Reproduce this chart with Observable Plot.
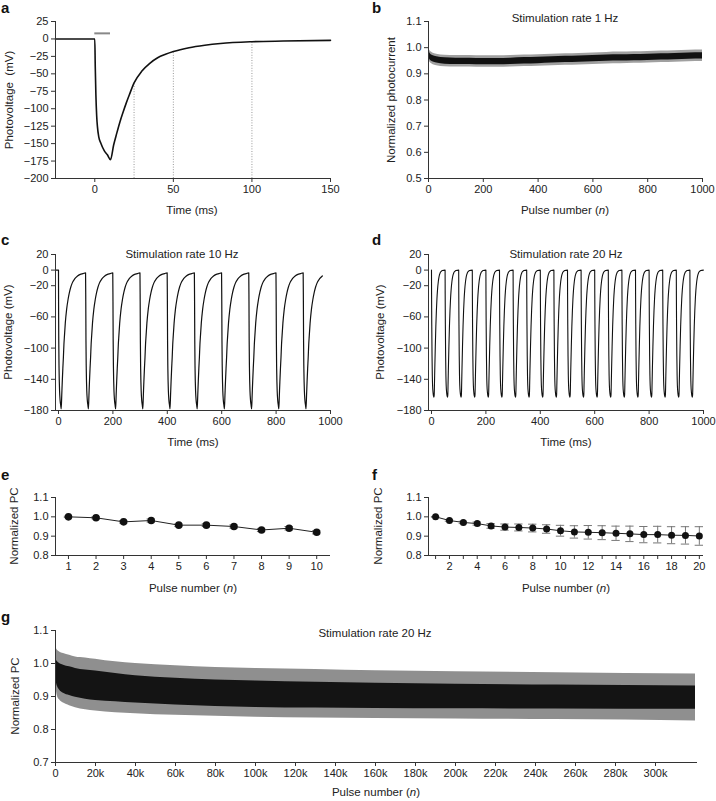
<!DOCTYPE html>
<html><head><meta charset="utf-8">
<script src="https://cdn.jsdelivr.net/npm/d3@7"></script>
<script src="https://cdn.jsdelivr.net/npm/@observablehq/plot@0.6"></script>
<style>
body{margin:0;background:#fff;font-family:"Liberation Sans",Arial,sans-serif;}
#fig{position:relative;width:716px;height:801px;overflow:hidden;background:#fff}
.lt{position:absolute;font-weight:bold;font-size:15px;line-height:15px;color:#111}
.t{position:absolute;font-size:11.5px;line-height:12px;color:#222;white-space:nowrap;transform:translateX(-50%)}
.yl{position:absolute;font-size:11.5px;line-height:12px;color:#222;white-space:nowrap;transform:translate(-50%,-50%) rotate(-90deg)}
</style></head><body><div id="fig"></div>
<script>
// ---------- Panel a: single pulse photovoltage ----------
const aTime = [-25, 0, 0.3, 0.7, 1.2, 1.7, 2.5, 3.8, 6, 8, 10, 12, 14, 16, 18, 20, 22, 25, 30, 35, 40, 45, 50, 60, 70, 80, 100, 120, 150];
const aVolt = [0, 0, -40, -80, -110, -126, -140, -149, -160, -166, -173, -152, -135, -119, -105, -92, -80, -63, -46, -35, -27, -22, -18, -12.5, -9, -6.5, -4, -3, -2];
const aStimStart = [0], aStimEnd = [10], aStimLevel = [8];
const aMarkTimes = [25, 50, 100], aMarkVolts = [-63, -18, -4];
const aXTicks = [0, 50, 100, 150];
const aYTicks = [25, 0, -25, -50, -75, -100, -125, -150, -175, -200];

// ---------- Panel b: 1 Hz normalized photocurrent ----------
const bPulse = [0, 3, 8, 15, 30, 60, 100, 150, 200, 250, 300, 350, 400, 450, 500, 550, 600, 650, 700, 750, 800, 850, 900, 950, 1000];
const bMean  = [0.99, 0.972, 0.963, 0.958, 0.953, 0.949, 0.948, 0.948, 0.947, 0.947, 0.948, 0.95, 0.951, 0.953, 0.955, 0.956, 0.958, 0.96, 0.961, 0.962, 0.963, 0.965, 0.966, 0.968, 0.969];
const bTraceHalf = [0.012];   // spread of noisy trace
const bSem = [0.022];         // grey error band
const bXTicks = [0, 200, 400, 600, 800, 1000];
const bYTicks = [0.5, 0.6, 0.7, 0.8, 0.9, 1.0, 1.1];

// ---------- Panel c: 10 Hz train ----------
const cLeadT = [-11, 0], cLeadV = [0, 0];
const cOnsets = [0, 100, 200, 300, 400, 500, 600, 700, 800, 900];
const cPulseOffset = [0.3, 1, 2, 3, 4, 6, 8, 10, 12, 14, 16, 18, 20, 22, 25, 30, 35, 40, 45, 50, 60, 70, 80, 90, 99.5];
const cPulseVolt   = [-40, -90, -125, -143, -155, -167, -173, -178, -160, -142, -126, -112, -95, -84, -68, -50, -38, -29, -22, -17, -11, -7.5, -5.5, -4.5, -3.5];
const cEnd = 978;
const cXTicks = [0, 200, 400, 600, 800, 1000];
const cdYTicks = [20, 0, -20, -60, -100, -140, -180];

// ---------- Panel d: 20 Hz train ----------
const dOnsets = [0, 50, 100, 150, 200, 250, 300, 350, 400, 450, 500, 550, 600, 650, 700, 750, 800, 850, 900, 950];
const dPulseOffset = [0, 0.3, 1, 2, 3, 4, 6, 8, 9, 10, 11, 12, 14, 16, 18, 20, 22, 25, 28, 32, 36, 40, 49.5];
const dPulseVolt   = [0, -30, -70, -110, -135, -148, -158, -162, -163, -160, -145, -128, -98, -72, -52, -37, -26, -15, -8, -3.5, -1.5, -0.5, 0];
const dEnd = 1000;

// ---------- Panel e: 10 Hz normalized PC ----------
const ePulse = [1, 2, 3, 4, 5, 6, 7, 8, 9, 10];
const eMean  = [1.0, 0.995, 0.974, 0.981, 0.957, 0.957, 0.950, 0.932, 0.941, 0.920];
const eErr   = [0.003, 0.005, 0.006, 0.008, 0.006, 0.007, 0.008, 0.008, 0.009, 0.008];
const efYTicks = [0.8, 0.9, 1.0, 1.1];

// ---------- Panel f: 20 Hz normalized PC ----------
const fPulse = [1, 2, 3, 4, 5, 6, 7, 8, 9, 10, 11, 12, 13, 14, 15, 16, 17, 18, 19, 20];
const fMean  = [1.0, 0.981, 0.971, 0.965, 0.953, 0.947, 0.945, 0.942, 0.937, 0.928, 0.922, 0.920, 0.918, 0.915, 0.912, 0.908, 0.908, 0.905, 0.904, 0.901];
const fErr   = [0.002, 0.004, 0.006, 0.008, 0.012, 0.016, 0.018, 0.02, 0.022, 0.028, 0.032, 0.035, 0.036, 0.037, 0.04, 0.042, 0.043, 0.044, 0.045, 0.048];

// ---------- Panel g: 20 Hz long-term ----------
const gPulse   = [0, 500, 1000, 2000, 4000, 7000, 10000, 15000, 20000, 30000, 40000, 60000, 80000, 100000, 130000, 160000, 200000, 250000, 320000];
const gGrayHi  = [1.055, 1.045, 1.04, 1.035, 1.03, 1.025, 1.02, 1.017, 1.013, 1.005, 1.0, 0.993, 0.988, 0.985, 0.982, 0.978, 0.975, 0.972, 0.968];
const gBlackHi = [1.02, 1.01, 1.005, 1.0, 0.995, 0.99, 0.985, 0.98, 0.977, 0.97, 0.963, 0.955, 0.95, 0.947, 0.943, 0.94, 0.937, 0.935, 0.932];
const gBlackLo = [0.96, 0.94, 0.93, 0.92, 0.91, 0.903, 0.898, 0.892, 0.888, 0.884, 0.88, 0.874, 0.87, 0.867, 0.865, 0.864, 0.863, 0.862, 0.861];
const gGrayLo  = [0.94, 0.915, 0.9, 0.89, 0.88, 0.872, 0.866, 0.86, 0.856, 0.851, 0.848, 0.843, 0.84, 0.837, 0.835, 0.833, 0.832, 0.83, 0.826];
const gXTicks = [0, 20000, 40000, 60000, 80000, 100000, 120000, 140000, 160000, 180000, 200000, 220000, 240000, 260000, 280000, 300000];
const gYTicks = [0.7, 0.8, 0.9, 1.0, 1.1];

// ---------- helpers ----------
const fig = document.getElementById("fig");
const FONT = "'Liberation Sans', Arial, sans-serif";
const AX = "#333";
const plain = d => String(d);

function panel(o) {
  const chart = Plot.plot({
    width: o.width, height: o.height,
    marginLeft: o.ml, marginRight: o.mr, marginTop: o.mt, marginBottom: o.mb,
    x: {domain: o.x, label: null},
    y: {domain: o.y, label: null},
    style: {fontFamily: FONT, fontSize: "11px", color: "#222", background: "transparent", overflow: "visible"},
    marks: [
      ...o.marks,
      Plot.ruleX([o.x[0]], {stroke: AX, strokeWidth: 1}),
      Plot.ruleY([o.y[0]], {stroke: AX, strokeWidth: 1}),
      Plot.axisX({ticks: o.xTicks, tickFormat: o.xFmt || plain, tickSize: 4, tickPadding: 3, label: null, stroke: AX}),
      Plot.axisY({ticks: o.yTicks, tickFormat: o.yFmt, tickSize: 4, tickPadding: 3, label: null, stroke: AX})
    ]
  });
  chart.style.position = "absolute";
  chart.style.left = o.left + "px";
  chart.style.top = o.top + "px";
  fig.appendChild(chart);
}
function txt(cls, html, x, y) {
  const d = document.createElement("div");
  d.className = cls; d.innerHTML = html;
  d.style.left = x + "px"; d.style.top = y + "px";
  fig.appendChild(d);
}
const fmt1 = d3.format(".1f");

// ---------- Panel a ----------
const aData = aTime.map((t, i) => ({t, v: aVolt[i]}));
const aMarks = aMarkTimes.map((t, i) => ({t, v: aMarkVolts[i]}));
const aStim = aStimStart.map((s, i) => ({s, e: aStimEnd[i], y: aStimLevel[i]}));
panel({
  left: 0, top: 0, width: 360, height: 200, ml: 55, mr: 30, mt: 21, mb: 22,
  x: [-25, 150], y: [-200, 25], xTicks: aXTicks, yTicks: aYTicks,
  marks: [
    Plot.ruleX(aMarks, {x: "t", y1: -200, y2: "v", stroke: "#999", strokeDasharray: "1,1.6", strokeWidth: 1}),
    Plot.ruleY(aStim, {x1: "s", x2: "e", y: "y", stroke: "#888", strokeWidth: 2}),
    Plot.line(aData, {x: "t", y: "v", stroke: "#111", strokeWidth: 1.6, curve: "monotone-x"})
  ]
});

// ---------- Panel b ----------
const bData = bPulse.map((n, i) => ({n, m: bMean[i]}));
panel({
  left: 360, top: 0, width: 356, height: 200, ml: 68, mr: 14, mt: 21, mb: 22,
  x: [0, 1000], y: [0.5, 1.1], xTicks: bXTicks, yTicks: bYTicks, yFmt: fmt1,
  marks: [
    Plot.areaY(bData, {x: "n", y1: d => d.m - bSem[0], y2: d => d.m + bSem[0], fill: "#a0a0a0", curve: "monotone-x"}),
    Plot.areaY(bData, {x: "n", y1: d => d.m - bTraceHalf[0], y2: d => d.m + bTraceHalf[0], fill: "#111", curve: "monotone-x"})
  ]
});

// ---------- Panel c ----------
const cTrace = cLeadT.map((t, i) => ({t, v: cLeadV[i]}));
cOnsets.forEach(o => cPulseOffset.forEach((dt, i) => { if (o + dt <= cEnd) cTrace.push({t: o + dt, v: cPulseVolt[i]}); }));
panel({
  left: 0, top: 230, width: 360, height: 200, ml: 55, mr: 30, mt: 24, mb: 20,
  x: [-11, 1000], y: [-180, 20], xTicks: cXTicks, yTicks: cdYTicks,
  marks: [
    Plot.line(cTrace, {x: "t", y: "v", stroke: "#111", strokeWidth: 1.2, curve: "monotone-x"})
  ]
});

// ---------- Panel d ----------
const dTrace = [];
dOnsets.forEach(o => dPulseOffset.forEach((dt, i) => { if (o + dt <= dEnd) dTrace.push({t: o + dt, v: dPulseVolt[i]}); }));
panel({
  left: 360, top: 230, width: 356, height: 200, ml: 68, mr: 13, mt: 24, mb: 20,
  x: [-11, 1000], y: [-180, 20], xTicks: cXTicks, yTicks: cdYTicks,
  marks: [
    Plot.line(dTrace, {x: "t", y: "v", stroke: "#111", strokeWidth: 1.1, curve: "monotone-x"})
  ]
});

// ---------- Panel e ----------
const eData = ePulse.map((n, i) => ({n, m: eMean[i], e: eErr[i]}));
panel({
  left: 0, top: 480, width: 360, height: 95, ml: 55, mr: 30, mt: 17, mb: 20,
  x: [0.53, 10.5], y: [0.8, 1.1], xTicks: ePulse, yTicks: efYTicks, yFmt: fmt1,
  marks: [
    Plot.ruleX(eData, {x: "n", y1: d => d.m - d.e, y2: d => d.m + d.e, stroke: "#777"}),
    Plot.ruleY(eData, {y: d => d.m + d.e, x1: d => d.n - 0.15, x2: d => d.n + 0.15, stroke: "#777"}),
    Plot.ruleY(eData, {y: d => d.m - d.e, x1: d => d.n - 0.15, x2: d => d.n + 0.15, stroke: "#777"}),
    Plot.line(eData, {x: "n", y: "m", stroke: "#222", strokeWidth: 1}),
    Plot.dot(eData, {x: "n", y: "m", r: 3.8, fill: "#111", stroke: "none"})
  ]
});

// ---------- Panel f ----------
const fData = fPulse.map((n, i) => ({n, m: fMean[i], e: fErr[i]}));
panel({
  left: 360, top: 480, width: 356, height: 95, ml: 68, mr: 13, mt: 17, mb: 20,
  x: [0.49, 20.3], y: [0.8, 1.1], xTicks: fPulse, xFmt: d => (d % 2 === 0 ? String(d) : ""), yTicks: efYTicks, yFmt: fmt1,
  marks: [
    Plot.ruleX(fData, {x: "n", y1: d => d.m - d.e, y2: d => d.m + d.e, stroke: "#777"}),
    Plot.ruleY(fData, {y: d => d.m + d.e, x1: d => d.n - 0.3, x2: d => d.n + 0.3, stroke: "#777"}),
    Plot.ruleY(fData, {y: d => d.m - d.e, x1: d => d.n - 0.3, x2: d => d.n + 0.3, stroke: "#777"}),
    Plot.line(fData, {x: "n", y: "m", stroke: "#222", strokeWidth: 1}),
    Plot.dot(fData, {x: "n", y: "m", r: 3.5, fill: "#111", stroke: "none"})
  ]
});

// ---------- Panel g ----------
const gData = gPulse.map((n, i) => ({n, gh: gGrayHi[i], bh: gBlackHi[i], bl: gBlackLo[i], gl: gGrayLo[i]}));
panel({
  left: 0, top: 610, width: 716, height: 172, ml: 55, mr: 19, mt: 20, mb: 20,
  x: [0, 321000], y: [0.7, 1.1], xTicks: gXTicks, xFmt: d => (d === 0 ? "0" : d / 1000 + "k"), yTicks: gYTicks, yFmt: fmt1,
  marks: [
    Plot.areaY(gData, {x: "n", y1: "gl", y2: "gh", fill: "#8f8f8f", curve: "monotone-x"}),
    Plot.areaY(gData, {x: "n", y1: "bl", y2: "bh", fill: "#141414", curve: "monotone-x"})
  ]
});

// ---------- texts ----------
txt("lt", "a", 1, 0); txt("lt", "b", 372, 0);
txt("lt", "c", 1, 232); txt("lt", "d", 372, 232);
txt("lt", "e", 1, 467); txt("lt", "f", 372, 467);
txt("lt", "g", 1, 609);

txt("t", "Stimulation rate 1 Hz", 565, 12);
txt("t", "Stimulation rate 10 Hz", 182, 248);
txt("t", "Stimulation rate 20 Hz", 566, 248);
txt("t", "Stimulation rate 20 Hz", 375, 627);

txt("t", "Time (ms)", 192, 204);
txt("t", "Pulse number (<i>n</i>)", 565, 204);
txt("t", "Time (ms)", 193, 436);
txt("t", "Time (ms)", 566, 436);
txt("t", "Pulse number (<i>n</i>)", 193, 582);
txt("t", "Pulse number (<i>n</i>)", 566, 582);
txt("t", "Pulse number (<i>n</i>)", 376, 786);

txt("yl", "Photovoltage&nbsp;&nbsp;(mV)", 9, 100);
txt("yl", "Normalized photocurrent", 391, 100);
txt("yl", "Photovoltage (mV)", 8, 332);
txt("yl", "Photovoltage (mV)", 380, 332);
txt("yl", "Normalized PC", 14, 526);
txt("yl", "Normalized PC", 378, 526);
txt("yl", "Normalized PC", 15, 696);
</script></body></html>
